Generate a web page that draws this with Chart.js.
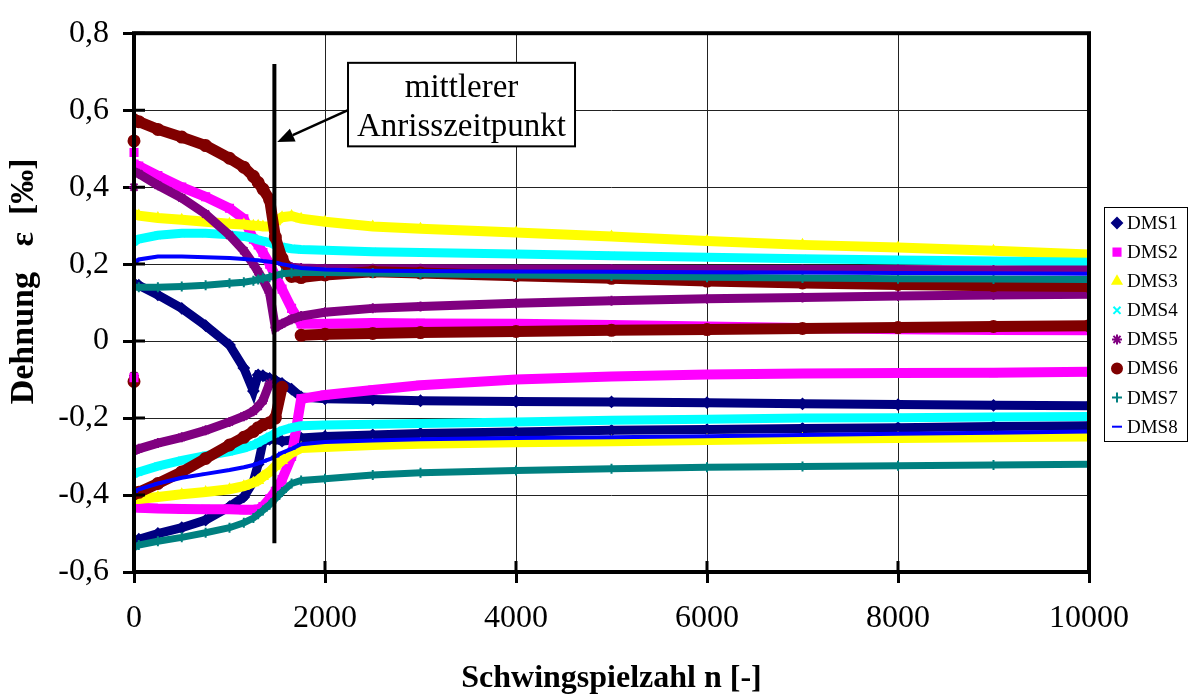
<!DOCTYPE html>
<html>
<head>
<meta charset="utf-8">
<script src="https://cdn.jsdelivr.net/npm/chart.js@4.4.0/dist/chart.umd.min.js"></script>
<style>
  html, body { margin: 0; padding: 0; background: #fff; }
  #wrap { width: 1193px; height: 695px; position: relative; }
</style>
</head>
<body>
<div id="wrap"><canvas id="chart"></canvas></div>
<script>
// ---------------------------- measured strain, upper and lower branch per gauge

const cycles = [0, 50, 250, 500, 750, 1000, 1150, 1250, 1300, 1350, 1420, 1480, 1550, 1650, 1750,
                2000, 2500, 3000, 4000, 5000, 6000, 7000, 8000, 9000, 10000];

const dms1High = [0.15, 0.145, 0.12, 0.085, 0.04, -0.01, -0.07, -0.13, -0.088, -0.09, -0.097, -0.102, -0.11, -0.125, -0.145,
                  -0.15, -0.152, -0.155, -0.157, -0.158, -0.16, -0.163, -0.165, -0.167, -0.168];
const dms1Low  = [-0.525, -0.515, -0.5, -0.485, -0.465, -0.43, -0.405, -0.365, -0.32, -0.262, -0.255, -0.255, -0.26, -0.257, -0.252,
                  -0.248, -0.244, -0.24, -0.236, -0.232, -0.23, -0.227, -0.225, -0.222, -0.22];

const dms2High = [0.46, 0.455, 0.43, 0.40, 0.375, 0.345, 0.318, 0.265, 0.25, 0.23, 0.2, 0.17, 0.135, 0.085, 0.045,
                  0.045, 0.047, 0.046, 0.045, 0.042, 0.038, 0.034, 0.031, 0.029, 0.028];
const dms2Low  = [-0.432, -0.433, -0.435, -0.436, -0.437, -0.437, -0.438, -0.438, -0.437, -0.43, -0.41, -0.39, -0.36, -0.3, -0.15,
                  -0.14, -0.127, -0.115, -0.1, -0.092, -0.087, -0.084, -0.083, -0.082, -0.08];

const dms3High = [0.33, 0.326, 0.32, 0.315, 0.31, 0.305, 0.303, 0.3, 0.3, 0.298, 0.298, 0.31, 0.322, 0.325, 0.318,
                  0.31, 0.298, 0.292, 0.282, 0.272, 0.26, 0.25, 0.243, 0.235, 0.225];
const dms3Low  = [-0.41, -0.41, -0.405, -0.398, -0.392, -0.385, -0.377, -0.368, -0.362, -0.352, -0.34, -0.325, -0.31, -0.29, -0.278,
                  -0.275, -0.27, -0.267, -0.263, -0.26, -0.257, -0.254, -0.252, -0.25, -0.248];

const dms4High = [0.258, 0.265, 0.275, 0.28, 0.28, 0.276, 0.272, 0.267, 0.263, 0.26, 0.256, 0.25, 0.245, 0.24, 0.238,
                  0.236, 0.232, 0.23, 0.226, 0.222, 0.218, 0.214, 0.211, 0.208, 0.205];
const dms4Low  = [-0.345, -0.34, -0.325, -0.31, -0.298, -0.287, -0.278, -0.27, -0.264, -0.257, -0.248, -0.24, -0.232, -0.225, -0.22,
                  -0.218, -0.216, -0.214, -0.21, -0.206, -0.203, -0.2, -0.199, -0.197, -0.196];

const dms5High = [0.44, 0.435, 0.405, 0.372, 0.33, 0.275, 0.235, 0.2, 0.18, 0.16, 0.125, 0.035, 0.045, 0.057, 0.065,
                  0.075, 0.085, 0.09, 0.098, 0.105, 0.11, 0.113, 0.117, 0.12, 0.122];
const dms5Low  = [-0.285, -0.28, -0.265, -0.25, -0.232, -0.21, -0.195, -0.182, -0.17, -0.155, -0.11, null, 0.205, 0.192, 0.19,
                  0.188, 0.188, 0.188, 0.187, 0.187, 0.186, 0.186, 0.186, 0.185, 0.185];

const dms6High = [0.575, 0.57, 0.55, 0.53, 0.508, 0.475, 0.452, 0.428, 0.412, 0.395, 0.368, 0.27, 0.215, 0.168, 0.165,
                  0.172, 0.18, 0.177, 0.17, 0.163, 0.156, 0.151, 0.147, 0.144, 0.142];
const dms6Low  = [-0.397, -0.393, -0.37, -0.34, -0.305, -0.27, -0.25, -0.235, -0.225, -0.218, -0.212, -0.2, -0.12, null, 0.015,
                  0.018, 0.02, 0.022, 0.025, 0.028, 0.03, 0.033, 0.035, 0.038, 0.04];

const dms7High = [0.14, 0.14, 0.14, 0.142, 0.145, 0.15, 0.153, 0.157, 0.16, 0.163, 0.166, 0.17, 0.175, 0.177, 0.178,
                  0.178, 0.177, 0.175, 0.172, 0.169, 0.166, 0.164, 0.162, 0.161, 0.16];
const dms7Low  = [-0.537, -0.53, -0.52, -0.51, -0.498, -0.485, -0.472, -0.46, -0.45, -0.44, -0.425, -0.41, -0.392, -0.37, -0.362,
                  -0.358, -0.348, -0.342, -0.336, -0.332, -0.328, -0.326, -0.324, -0.322, -0.32];

const dms8High = [0.2, 0.212, 0.22, 0.22, 0.218, 0.216, 0.213, 0.211, 0.21, 0.208, 0.206, 0.204, 0.2, 0.195, 0.19,
                  0.186, 0.183, 0.182, 0.181, 0.18, 0.179, 0.178, 0.177, 0.176, 0.175];
const dms8Low  = [-0.392, -0.385, -0.37, -0.355, -0.345, -0.335, -0.328, -0.322, -0.318, -0.313, -0.307, -0.3, -0.29, -0.28, -0.268,
                  -0.262, -0.258, -0.255, -0.252, -0.25, -0.247, -0.244, -0.241, -0.238, -0.235];

// single readings taken at n = 0
const firstHigh = [null, 0.49, null, null, 0.40, 0.52, null, null];
const firstLow  = [null, -0.095, null, null, -0.09, -0.105, -0.11, -0.1];

const gaugeNames = ['DMS1', 'DMS2', 'DMS3', 'DMS4', 'DMS5', 'DMS6', 'DMS7', 'DMS8'];
const xTicks = [0, 2000, 4000, 6000, 8000, 10000];
const yTicks = [-0.6, -0.4, -0.2, 0, 0.2, 0.4, 0.6, 0.8];

// mean crack initiation and its note
const crackCycle = 1470;
const crackSpan = [-0.525, 0.72];
const noteText = ['mittlerer', 'Anrisszeitpunkt'];

// --------------------------- look

const highs = [dms1High, dms2High, dms3High, dms4High, dms5High, dms6High, dms7High, dms8High];
const lows  = [dms1Low, dms2Low, dms3Low, dms4Low, dms5Low, dms6Low, dms7Low, dms8Low];

const looks = [
    { color: '#000080', style: 'rectRot',  band: 9,  radius: 5 },
    { color: '#FF00FF', style: 'rect',     band: 10, radius: 5 },
    { color: '#FFFF00', style: 'triangle', band: 10, radius: 5 },
    { color: '#00FFFF', style: 'crossRot', band: 9,  radius: 5 },
    { color: '#800080', style: 'star',     band: 9,  radius: 5 },
    { color: '#800000', style: 'circle',   band: 11, radius: 5.5 },
    { color: '#008080', style: 'cross',    band: 7,  radius: 5 },
    { color: '#0000FF', style: 'line',     band: 4,  radius: 4 }
];

const FONT = "'Liberation Serif', 'Times New Roman', serif";
Chart.defaults.font.family = FONT;
Chart.defaults.color = '#000';

function toPoints(values) {
    return cycles.map((n, k) => ({ x: n, y: values[k] }));
}

const datasets = [];
gaugeNames.forEach((name, i) => {
    const lk = looks[i];
    [highs[i], lows[i]].forEach((values, b) => {
        datasets.push({
            label: name,
            legend: b === 0,
            data: toPoints(values),
            borderColor: lk.color,
            backgroundColor: lk.color,
            borderWidth: lk.band,
            pointStyle: lk.style,
            pointRadius: lk.radius,
            pointBorderWidth: 2,
            pointBorderColor: lk.color,
            pointBackgroundColor: lk.color,
            spanGaps: false,
            tension: 0,
            order: 10 - i
        });
    });
    const first = [firstHigh[i], firstLow[i]].filter(v => v !== null).map(v => ({ x: 0, y: v }));
    if (first.length) {
        datasets.push({
            label: name,
            legend: false,
            data: first,
            showLine: false,
            pointStyle: lk.style,
            pointRadius: lk.radius,
            pointBorderWidth: 2,
            borderColor: lk.color,
            backgroundColor: lk.color,
            clip: false,
            order: 1
        });
    }
});

function fmtStrain(v) {
    if (Math.abs(v) < 1e-9) return '0';
    return v.toFixed(1).replace('.', ',');
}

// frame, crack marker, note and legend drawn over the data
const overlay = {
    id: 'overlay',
    afterDatasetsDraw(chart) {
        const { ctx, chartArea: a, scales: { x, y } } = chart;
        ctx.save();

        // crack line
        const cx = x.getPixelForValue(crackCycle);
        ctx.strokeStyle = '#000';
        ctx.lineWidth = 4;
        ctx.beginPath();
        ctx.moveTo(cx, y.getPixelForValue(crackSpan[0]));
        ctx.lineTo(cx, y.getPixelForValue(crackSpan[1]));
        ctx.stroke();

        // plot frame and inner tick halves
        ctx.lineWidth = 4;
        ctx.strokeRect(a.left, a.top, a.right - a.left, a.bottom - a.top);
        ctx.lineWidth = 3;
        ctx.beginPath();
        yTicks.forEach(v => {
            const py = y.getPixelForValue(v);
            ctx.moveTo(a.left, py);
            ctx.lineTo(a.left + 11, py);
        });
        xTicks.forEach(v => {
            const px = x.getPixelForValue(v);
            ctx.moveTo(px, a.bottom);
            ctx.lineTo(px, a.bottom - 11);
        });
        ctx.stroke();

        // note box with arrow
        const bx0 = x.getPixelForValue(2241), bx1 = x.getPixelForValue(4618);
        const by0 = y.getPixelForValue(0.723), by1 = y.getPixelForValue(0.506);
        ctx.fillStyle = '#fff';
        ctx.fillRect(bx0, by0, bx1 - bx0, by1 - by0);
        ctx.lineWidth = 2;
        ctx.strokeRect(bx0, by0, bx1 - bx0, by1 - by0);
        ctx.fillStyle = '#000';
        ctx.font = '33px ' + FONT;
        ctx.textAlign = 'center';
        ctx.textBaseline = 'middle';
        const h = by1 - by0;
        ctx.fillText(noteText[0], (bx0 + bx1) / 2, by0 + 0.31 * h);
        ctx.fillText(noteText[1], (bx0 + bx1) / 2, by0 + 0.77 * h);

        const ax0 = bx0, ay0 = y.getPixelForValue(0.60);
        const ax1 = x.getPixelForValue(1500), ay1 = y.getPixelForValue(0.517);
        const ang = Math.atan2(ay1 - ay0, ax1 - ax0);
        const hl = 17, hw = 7;
        ctx.lineWidth = 2.5;
        ctx.beginPath();
        ctx.moveTo(ax0, ay0);
        ctx.lineTo(ax1 - hl * Math.cos(ang), ay1 - hl * Math.sin(ang));
        ctx.stroke();
        ctx.beginPath();
        ctx.moveTo(ax1, ay1);
        ctx.lineTo(ax1 - hl * Math.cos(ang) + hw * Math.sin(ang), ay1 - hl * Math.sin(ang) - hw * Math.cos(ang));
        ctx.lineTo(ax1 - hl * Math.cos(ang) - hw * Math.sin(ang), ay1 - hl * Math.sin(ang) + hw * Math.cos(ang));
        ctx.closePath();
        ctx.fill();

        // legend
        const entries = chart.data.datasets.filter(d => d.legend);
        const lx = a.right + 15, ly = 207, lw = 83, step = 29.1;
        ctx.fillStyle = '#fff';
        ctx.fillRect(lx, ly, lw, 234);
        ctx.strokeStyle = '#000';
        ctx.lineWidth = 1;
        ctx.strokeRect(lx + 0.5, ly + 0.5, lw, 234);
        ctx.font = '19px ' + FONT;
        ctx.textAlign = 'left';
        entries.forEach((d, k) => {
            const ey = ly + 16 + k * step;
            ctx.fillStyle = d.backgroundColor;
            ctx.strokeStyle = d.borderColor;
            ctx.lineWidth = 2;
            Chart.helpers.drawPoint(ctx, { pointStyle: d.pointStyle, rotation: 0, radius: 5, borderWidth: 2 }, lx + 13, ey);
            ctx.fillStyle = '#000';
            ctx.fillText(d.label, lx + 23, ey + 1);
        });

        ctx.restore();
    }
};

const options = {
    responsive: true,
    maintainAspectRatio: false,
    animation: false,
    layout: { padding: { left: 0, right: 104, top: 22, bottom: 0 } },
    plugins: {
        legend: { display: false },
        tooltip: { enabled: false }
    },
    scales: {
        x: {
            type: 'linear',
            min: 0,
            max: 10000,
            afterFit: s => { s.height = 123; },
            afterBuildTicks: s => { s.ticks = xTicks.map(v => ({ value: v })); },
            border: { display: false },
            grid: { color: '#222', lineWidth: 1, tickLength: 11, tickWidth: 3, tickColor: '#000' },
            ticks: {
                font: { size: 32 },
                padding: 16,
                maxRotation: 0,
                callback: v => String(v)
            },
            title: {
                display: true,
                text: 'Schwingspielzahl n [-]',
                font: { size: 32, weight: 'bold', lineHeight: 1 },
                padding: { top: 0, bottom: 0 }
            }
        },
        y: {
            type: 'linear',
            min: -0.6,
            max: 0.8,
            afterFit: s => { s.width = 134; },
            afterBuildTicks: s => { s.ticks = yTicks.map(v => ({ value: v })); },
            border: { display: false },
            grid: { color: '#222', lineWidth: 1, tickLength: 11, tickWidth: 3, tickColor: '#000' },
            ticks: {
                font: { size: 32 },
                padding: 14,
                callback: v => fmtStrain(v)
            },
            title: {
                display: true,
                text: '     Dehnung   \u03b5  [\u2030]',
                font: { size: 34, weight: 'bold', lineHeight: 1 },
                padding: { top: 7, bottom: 0 }
            }
        }
    }
};

const ctx = document.getElementById('chart');
const mainChart = new Chart(ctx, {
    type: 'line',
    data: { datasets: datasets },
    options: options,
    plugins: [overlay]
});
</script>
</body>
</html>
